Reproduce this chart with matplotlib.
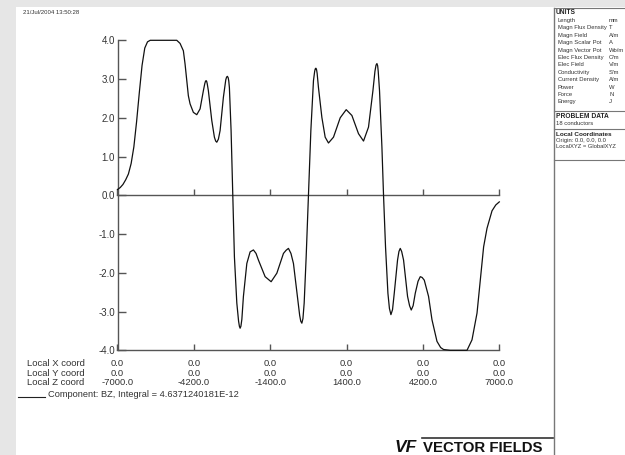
import matplotlib
matplotlib.use("Agg")
import matplotlib.pyplot as plt
from matplotlib.lines import Line2D
from matplotlib.patches import Rectangle

# ---------------- data ----------------
z_coord = [-7000, -6900, -6800, -6700, -6600, -6500, -6400, -6300, -6200, -6100,
           -6000, -5900, -5800, -5500, -5100, -4827, -4706, -4585, -4523, -4460,
           -4402, -4339, -4218, -4093, -3972, -3851, -3800, -3775, -3752, -3730,
           -3710, -3668, -3543, -3447, -3400, -3359, -3300, -3238, -3117, -3030,
           -3000, -2970, -2940, -2920, -2897, -2835, -2772, -2713, -2625, -2560,
           -2530, -2504, -2475, -2440, -2383, -2258, -2137, -2016, -1920, -1833,
           -1587, -1367, -1157, -915, -820, -732, -640, -548, -401, -320,
           -280, -240, -200, -155, -82, 2, 90, 186, 230, 250,
           274, 300, 320, 369, 494, 615, 736, 920, 1166, 1386,
           1595, 1837, 2021, 2204, 2366, 2440, 2480, 2513, 2540, 2560,
           2608, 2696, 2755, 2828, 2916, 2971, 3026, 3085, 3148, 3269,
           3320, 3368, 3420, 3489, 3636, 3710, 3771, 3840, 3918, 4020,
           4102, 4170, 4249, 4406, 4531, 4715, 4850, 4957, 5200, 5500,
           5816, 5999, 6183, 6304, 6425, 6550, 6733, 6870, 7000]
bz = [0.15, 0.20, 0.28, 0.40, 0.55, 0.82, 1.25, 1.90, 2.65, 3.35,
      3.80, 3.96, 4.00, 4.00, 4.00, 4.00, 3.92, 3.73, 3.39, 2.96,
      2.57, 2.36, 2.14, 2.08, 2.23, 2.70, 2.88, 2.94, 2.96, 2.94,
      2.88, 2.70, 1.93, 1.50, 1.40, 1.37, 1.45, 1.67, 2.53, 2.98,
      3.05, 3.07, 3.03, 2.95, 2.78, 1.67, 0.00, -1.59, -2.78, -3.25,
      -3.38, -3.43, -3.38, -3.20, -2.61, -1.76, -1.46, -1.41, -1.50, -1.67,
      -2.10, -2.23, -2.01, -1.50, -1.42, -1.37, -1.50, -1.76, -2.61, -3.10,
      -3.25, -3.30, -3.18, -2.78, -1.59, 0.00, 1.67, 2.96, 3.20, 3.26,
      3.28, 3.24, 3.15, 2.78, 2.01, 1.50, 1.35, 1.50, 2.00, 2.21,
      2.06, 1.59, 1.40, 1.76, 2.70, 3.20, 3.36, 3.40, 3.34, 3.20,
      2.70, 1.24, 0.00, -1.33, -2.53, -2.92, -3.08, -2.95, -2.53, -1.67,
      -1.45, -1.37, -1.45, -1.67, -2.61, -2.85, -2.96, -2.85, -2.53, -2.22,
      -2.10, -2.12, -2.19, -2.61, -3.21, -3.77, -3.93, -3.98, -4.00, -4.00,
      -4.00, -3.73, -3.04, -2.19, -1.33, -0.85, -0.40, -0.25, -0.17]

y_ticks = [-4.0, -3.0, -2.0, -1.0, 0.0, 1.0, 2.0, 3.0, 4.0]
z_ticks = [-7000.0, -4200.0, -1400.0, 1400.0, 4200.0, 7000.0]
x_local = [0.0, 0.0, 0.0, 0.0, 0.0, 0.0]
y_local = [0.0, 0.0, 0.0, 0.0, 0.0, 0.0]
row_names = ["Local X coord", "Local Y coord", "Local Z coord"]
legend_text = "Component: BZ, Integral = 4.6371240181E-12"
date_text = "21/Jul/2004 13:50:28"
unit_names = ["Length", "Magn Flux Density", "Magn Field", "Magn Scalar Pot",
              "Magn Vector Pot", "Elec Flux Density", "Elec Field", "Conductivity",
              "Current Density", "Power", "Force", "Energy"]
unit_values = ["mm", "T", "A/m", "A", "Wb/m", "C/m", "V/m", "S/m", "A/m", "W", "N", "J"]

# ---------------- figure ----------------
W, H = 625, 455
fig = plt.figure(figsize=(W / 100, H / 100), dpi=100)
fig.patch.set_facecolor("white")


def fx(px):
    return px / W


def fy(py):
    return 1 - py / H


GRAY_BG = "#e6e6e6"
AXC = "#555555"
TXT = "#333333"
SANS = ["Liberation Sans", "DejaVu Sans"]

fig.add_artist(Rectangle((0, fy(7)), 1, 1 - fy(7), transform=fig.transFigure,
                         facecolor=GRAY_BG, edgecolor="none", zorder=0))
fig.add_artist(Rectangle((0, 0), fx(16), 1, transform=fig.transFigure,
                         facecolor=GRAY_BG, edgecolor="none", zorder=0))

# ---------------- axes ----------------
x0, x1, ytop, ybot = 117.5, 499.3, 40.3, 350.3
ax = fig.add_axes([fx(x0), fy(ybot), fx(x1) - fx(x0), fy(ytop) - fy(ybot)])
ax.patch.set_alpha(0)
ax.plot(z_coord, bz, color="#111111", lw=0.9, clip_on=False, zorder=3,
        solid_joinstyle="round")
ax.set_xlim(-7000, 7000)
ax.set_ylim(-4, 4)
ax.spines[["top", "right"]].set_visible(False)
for s in ["left", "bottom"]:
    ax.spines[s].set_color(AXC)
    ax.spines[s].set_linewidth(1.0)

ax.set_yticks(y_ticks)
ax.set_yticklabels([f"{v:.1f}" for v in y_ticks], family=SANS)
ax.tick_params(axis="y", direction="in", length=5.5, width=1.0, color=AXC,
               labelsize=7, labelcolor=TXT, pad=2)

ax.set_xticks(z_ticks)
ax.set_xticklabels([f"{a:.1f}\n{b:.1f}\n{c:.1f}" for a, b, c in zip(x_local, y_local, z_ticks)],
                   family=SANS)
ax.tick_params(axis="x", direction="in", length=4.5, width=1.0, color=AXC,
               labelsize=6.8, labelcolor=TXT, pad=6.5)
for lbl in ax.get_xticklabels():
    lbl.set_linespacing(1.05)

# zero line with its own ticks
sec = ax.secondary_xaxis(0.5)
sec.set_xticks(z_ticks)
sec.tick_params(axis="x", direction="out", length=4.5, width=1.0, color=AXC,
                labeltop=False, labelbottom=False)
for s in sec.spines.values():
    s.set_color(AXC)
    s.set_linewidth(1.0)

# row labels
label_top = ybot + 6.5 * 100 / 72
fig.text(fx(26.7), fy(label_top), "\n".join(row_names), ha="left", va="top",
         fontsize=6.8, color=TXT, family=SANS, linespacing=1.05)

# legend line
fig.add_artist(Line2D([fx(17.5), fx(45)], [fy(397), fy(397)], color="#222222", lw=0.8))
fig.text(fx(48.3), fy(396.8), legend_text, ha="left", va="baseline",
         fontsize=6.7, color=TXT, family=SANS)

# date
fig.text(fx(23.3), fy(12.3), date_text, ha="left", va="center",
         fontsize=4.3, color=TXT, family=SANS)

# ---------------- right panel ----------------
PX = 553.5
PC = "#777777"
fig.add_artist(Line2D([fx(PX), fx(PX)], [fy(7.5), fy(455)], color=PC, lw=1.0))
for yy in [7.5, 111, 129, 160]:
    fig.add_artist(Line2D([fx(PX), 1], [fy(yy), fy(yy)], color=PC, lw=0.8))

fig.text(fx(556), fy(13), "UNITS", ha="left", va="center", fontsize=4.8,
         fontweight="bold", color="#222222", family=SANS)
for i, (n, v) in enumerate(zip(unit_names, unit_values)):
    yy = 20.5 + i * 7.4
    fig.text(fx(558), fy(yy), n, ha="left", va="center", fontsize=4.2,
             color=TXT, family=SANS)
    fig.text(fx(609), fy(yy), v, ha="left", va="center", fontsize=4.2,
             color=TXT, family=SANS)

fig.text(fx(556), fy(117), "PROBLEM DATA", ha="left", va="center", fontsize=4.8,
         fontweight="bold", color="#222222", family=SANS)
fig.text(fx(556), fy(123.5), "18 conductors", ha="left", va="center", fontsize=4.2,
         color=TXT, family=SANS)
fig.text(fx(556), fy(134), "Local Coordinates", ha="left", va="center", fontsize=4.6,
         fontweight="bold", color="#222222", family=SANS)
fig.text(fx(556), fy(140.5), "Origin: 0.0, 0.0, 0.0", ha="left", va="center", fontsize=4.2,
         color=TXT, family=SANS)
fig.text(fx(556), fy(146.5), "LocalXYZ = GlobalXYZ", ha="left", va="center", fontsize=4.2,
         color=TXT, family=SANS)

# ---------------- logo ----------------
fig.text(fx(395), fy(452), "VF", ha="left", va="baseline", fontsize=12.5,
         fontweight="bold", fontstyle="italic", color="#111111", family=SANS)
fig.add_artist(Line2D([fx(421.5), fx(553)], [fy(437.5), fy(437.5)], color="#333333", lw=1.2))
fig.text(fx(423), fy(452), "VECTOR FIELDS", ha="left", va="baseline", fontsize=10.8,
         fontweight="bold", color="#111111", family=SANS)

fig.savefig("out.png", dpi=100)
